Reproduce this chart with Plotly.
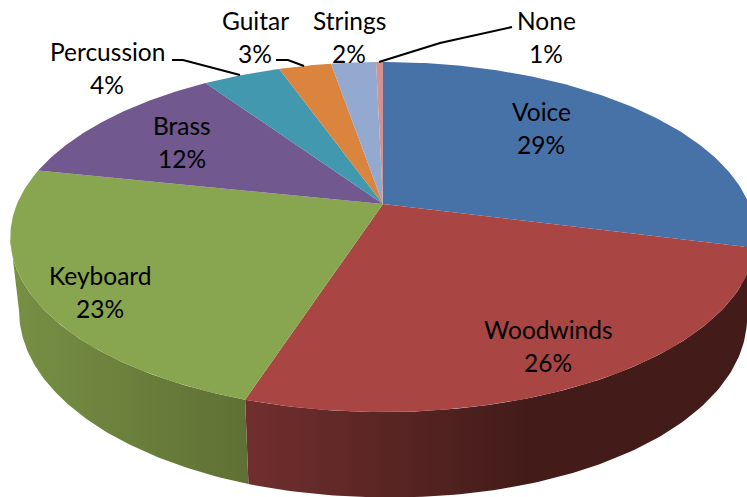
import numpy as np
import plotly.graph_objects as go

categories = ["Voice", "Woodwinds", "Keyboard", "Brass", "Percussion", "Guitar", "Strings", "None"]
# Shares; the printed labels are rounded by the chart
values = [29.0, 26.0, 23.3, 12.23, 4.05, 2.73, 2.33, 0.36]
percent_labels = ["29%", "26%", "23%", "12%", "4%", "3%", "2%", "1%"]
top_colors = ["#4672A8", "#A94644", "#88A54F", "#71588F", "#4198AF", "#DB843D", "#93A9CF", "#D19392"]
side_left = ["#2F4D72", "#702F2E", "#779044", "#4C3B60", "#2C6676", "#945929", "#63728C", "#8D6362"]
side_right = ["#2F4D72", "#431C1A", "#5F7034", "#4C3B60", "#2C6676", "#945929", "#63728C", "#8D6362"]
side_break = [1.0, 0.55, 1.0, 1.0, 1.0, 1.0, 1.0, 1.0]

# Position of every label in page pixels (centre of the name line, centre of the percent line)
label_pos = [(541, 111, 144), (548, 329, 362), (100, 275, 308), (182, 125, 158),
             (107, 51, 84), (255, 20, 53), (349, 20, 53), (546, 20, 53)]
leaders = {"Percussion": ([172, 183, 240], [60, 60, 75]),
           "Guitar": ([276, 288, 304], [60, 60, 66]),
           "None": ([379, 440, 512], [62, 43, 27])}

# Projection of the pie disc onto the page: top rim and lower rim
CX, CY, B, A, K = 383.0, 204.0, 366.0, 168.8, 0.1886
CY2, B2, A2 = 276.0, 357.4, 179.4
RIGHT_SAG = 7.0
THETA_EXT = 3 * np.pi / 2 - np.arcsin(K)   # left extreme of both rims


def rim(theta):
    X, Y = np.sin(theta), np.cos(theta)
    d = 1 + K * Y
    return CX + B * X / d, CY - A * Y / d


def lower(theta):
    X, Y = np.sin(theta), np.cos(theta)
    d = 1 + K * Y
    return CX + B2 * X / d, CY2 - A2 * Y / d + RIGHT_SAG * np.maximum(X, 0)


fig = go.Figure()
edges = np.cumsum([0] + values) / sum(values) * 2 * np.pi

# Side wall: only the part of each slice that faces the viewer
for i, c in enumerate(categories):
    a0, a1 = max(edges[i], np.pi / 2), min(edges[i + 1], THETA_EXT)
    if a0 >= a1:
        continue
    t = np.linspace(a0, a1, 90)
    x, y = rim(t)
    xl, yl = lower(t)
    stops = [[0, side_left[i]], [side_break[i], side_right[i]]]
    if side_break[i] < 1:
        stops.append([1, side_right[i]])
    fig.add_trace(go.Scatter(
        x=np.r_[x, xl[::-1]], y=np.r_[y, yl[::-1]], mode="lines", fill="toself",
        line=dict(width=0), hoverinfo="skip", showlegend=False,
        fillgradient=dict(type="horizontal", colorscale=stops)))

# Top face
for i, c in enumerate(categories):
    t = np.linspace(edges[i], edges[i + 1], 120)
    x, y = rim(t)
    fig.add_trace(go.Scatter(
        x=np.r_[CX, x, CX], y=np.r_[CY, y, CY], mode="lines", fill="toself",
        fillcolor=top_colors[i], line=dict(width=0), name=c, showlegend=False))

for name, (lx, ly) in leaders.items():
    fig.add_trace(go.Scatter(x=lx, y=ly, mode="lines", line=dict(color="black", width=2),
                             hoverinfo="skip", showlegend=False))

font = dict(family="Lato, Carlito, sans-serif", size=24.5, color="black")
for c, p, (px, y1, y2) in zip(categories, percent_labels, label_pos):
    fig.add_annotation(x=px, y=y1, text=c, showarrow=False, font=font)
    fig.add_annotation(x=px, y=y2, text=p, showarrow=False, font=font)

fig.update_layout(
    width=747, height=497, margin=dict(l=0, r=0, t=0, b=0),
    paper_bgcolor="white", plot_bgcolor="white",
    xaxis=dict(range=[0, 747], visible=False, fixedrange=True),
    yaxis=dict(range=[497, 0], visible=False, fixedrange=True),
)
fig.write_html("out.html", config=dict(displayModeBar=False),
               post_script="document.body.style.margin='0';document.body.style.overflow='hidden';")
